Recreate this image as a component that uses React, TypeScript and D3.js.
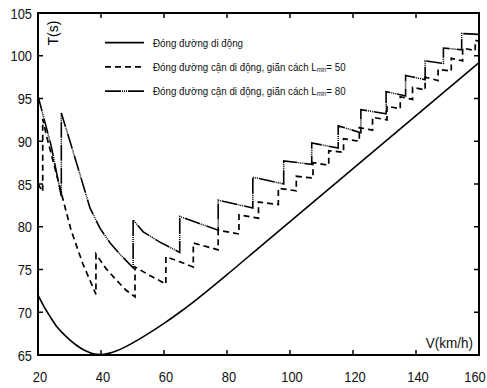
import React, { useEffect, useRef } from 'react';
import * as d3 from 'd3';

const xTicks = [20, 40, 60, 80, 100, 120, 140, 160];
const yTicks = [65, 70, 75, 80, 85, 90, 95, 100, 105];

// Đóng đường di động (solid)
const movingV = [20, 22, 24, 26, 28, 30, 32, 34, 36, 38, 40, 45, 50, 55, 60, 65, 70, 80, 90, 100, 110, 120, 130, 140, 150, 160];
const movingT = [72.0, 70.6, 69.4, 68.3, 67.5, 66.8, 66.2, 65.7, 65.35, 65.1, 65.05, 65.5, 66.4, 67.5, 68.7, 70.0, 71.4, 74.4, 77.5, 80.6, 83.7, 86.8, 89.9, 93.0, 96.1, 99.2];

// Lmin = 50 (dashed), repeated V = jump
const q50V = [20, 21.5, 21.5, 23, 25, 27.5, 30.5, 34.2, 38.4, 38.4, 41.6, 44.8, 47.9, 50.8, 50.8, 55.5, 60.6, 60.6, 65, 69.3, 69.3, 77.2, 77.2, 83.8, 83.8, 90, 90, 96.3, 96.3, 102, 102, 107.3, 107.3, 112.3, 112.3, 117, 117, 122, 122, 126.2, 126.2, 130.8, 130.8, 135, 135, 138.9, 138.9, 142.9, 142.9, 147, 147, 151.2, 151.2, 154.8, 154.8, 158.8, 158.8, 160];
const q50T = [85, 84.1, 92.6, 90.2, 87.4, 83.8, 79.6, 75.7, 72.1, 76.8, 75.1, 73.8, 72.6, 71.8, 75.3, 74.3, 73.3, 76.5, 75.9, 75.3, 78.1, 77.3, 79.6, 79.15, 81.4, 81.0, 82.9, 82.6, 84.5, 84.2, 85.9, 85.7, 87.5, 87.2, 88.9, 88.7, 90.3, 90.0, 91.6, 91.3, 92.8, 92.5, 94.1, 93.8, 95.2, 94.9, 96.3, 96.0, 97.5, 97.1, 98.4, 98.2, 99.7, 99.4, 100.9, 100.6, 101.8, 101.7];

// Lmin = 80 (dash-dot)
const q80V = [20, 22, 24.1, 27.4, 27.4, 29.9, 33.1, 36.5, 39.7, 42.9, 46.5, 50.2, 50.2, 53.4, 58.7, 65, 65, 71, 77.2, 77.2, 88.2, 88.2, 98, 98, 106.9, 106.9, 115.3, 115.3, 122.5, 122.5, 130.5, 130.5, 136.7, 136.7, 142.9, 142.9, 148.7, 148.7, 154.5, 154.5, 160];
const q80T = [95.3, 92.5, 89.6, 83.6, 93.3, 90.3, 86.4, 82.2, 79.8, 78.1, 76.6, 75.2, 80.8, 79.4, 78.2, 77.0, 81.2, 80.4, 79.6, 83.1, 82.2, 85.8, 85.0, 87.7, 87.3, 89.8, 89.2, 91.8, 91.0, 93.7, 93.2, 95.8, 95.3, 97.7, 97.2, 99.4, 99.1, 100.9, 100.7, 102.6, 102.5];

const legendText = ['Đóng đường di động', 'Đóng đường cận di động, giãn cách L', 'Đóng đường cận di động, giãn cách L'];
const legendLmin = ['', '50', '80'];
const legendDash = ['none', '6,4', '16,1,1,1,1,1,1,1'];

const FONT = 'Liberation Sans, Arial, sans-serif';

export default function App() {
  const ref = useRef<SVGSVGElement>(null);

  function draw() {
    const svg = d3.select(ref.current);
    svg.selectAll('*').remove();
    const width = 487, height = 388;
    const margin = { top: 13, right: 8, bottom: 33, left: 38 };

    const x = d3.scaleLinear().domain([20, 160]).range([margin.left, width - margin.right]);
    const y = d3.scaleLinear().domain([65, 105]).range([height - margin.bottom, margin.top]);

    svg.append('rect').attr('width', width).attr('height', height).attr('fill', '#fff');

    // squeezed text (the original font is narrow)
    function label(g: any, tx: number, ty: number, s: string, anchor: string, size: number, sx: number) {
      return g.append('text')
        .attr('transform', `translate(${tx},${ty}) scale(${sx},1)`)
        .attr('text-anchor', anchor)
        .attr('font-family', FONT)
        .attr('font-size', size)
        .attr('fill', '#111')
        .text(s);
    }

    const toPath = (vs: number[], ts: number[], curve: any) =>
      d3.line<[number, number]>().x(d => x(d[0])).y(d => y(d[1])).curve(curve)(vs.map((v, i) => [v, ts[i]]));

    const g = svg.append('g');

    g.append('path')
      .attr('d', toPath(movingV, movingT, d3.curveMonotoneX))
      .attr('fill', 'none').attr('stroke', '#000').attr('stroke-width', 1.6);

    g.append('path')
      .attr('d', toPath(q50V, q50T, d3.curveLinear))
      .attr('fill', 'none').attr('stroke', '#000').attr('stroke-width', 1.7)
      .attr('stroke-dasharray', legendDash[1]);

    g.append('path')
      .attr('d', toPath(q80V, q80T, d3.curveLinear))
      .attr('fill', 'none').attr('stroke', '#000').attr('stroke-width', 1.6)
      .attr('stroke-dasharray', legendDash[2]);

    // frame
    const [x0, x1] = x.range();
    const [y0, y1] = y.range();
    svg.append('rect')
      .attr('x', x0).attr('y', y1).attr('width', x1 - x0).attr('height', y0 - y1)
      .attr('fill', 'none').attr('stroke', '#000').attr('stroke-width', 2);

    // inward ticks
    const tk = svg.append('g').attr('stroke', '#000').attr('stroke-width', 1.5);
    xTicks.slice(1, -1).forEach(v => {
      tk.append('line').attr('x1', x(v)).attr('x2', x(v)).attr('y1', y0).attr('y2', y0 - 5);
      tk.append('line').attr('x1', x(v)).attr('x2', x(v)).attr('y1', y1).attr('y2', y1 + 5);
    });
    yTicks.slice(1, -1).forEach(t => {
      tk.append('line').attr('x1', x0).attr('x2', x0 + 5).attr('y1', y(t)).attr('y2', y(t));
      tk.append('line').attr('x1', x1).attr('x2', x1 - 5).attr('y1', y(t)).attr('y2', y(t));
    });

    // last label pulled in a little so it stays inside the page
    xTicks.forEach(v => label(svg, Math.min(x(v) + 2, width - 12), 382, String(v), 'middle', 15, 0.86));
    yTicks.forEach(t => label(svg, 32, y(t) + 5.5, String(t), 'end', 15, 0.86));

    label(svg, 473, 348, 'V(km/h)', 'end', 15, 0.9);
    svg.append('text')
      .attr('transform', 'translate(58,33) rotate(-90)')
      .attr('text-anchor', 'middle')
      .attr('font-family', FONT)
      .attr('font-size', 14)
      .text('T(s)');

    // legend
    const lg = svg.append('g');
    legendText.forEach((s, i) => {
      const ly = 42.7 + i * 24.2;
      lg.append('line')
        .attr('x1', 105).attr('x2', 144).attr('y1', ly).attr('y2', ly)
        .attr('stroke', '#000').attr('stroke-width', 1.7)
        .attr('stroke-dasharray', legendDash[i]);
      const t = label(lg, 153, ly + 4, '', 'start', 11.5, 0.85);
      t.append('tspan').text(s);
      if (legendLmin[i]) {
        t.append('tspan').attr('font-size', 7).attr('dy', 1).text('min');
        t.append('tspan').attr('dy', -1).text('= ' + legendLmin[i]);
      }
    });
  }

  useEffect(() => {
    draw();
  }, []);

  return (
    <svg ref={ref} width={487} height={388} style={{ position: 'absolute', left: 0, top: 0 }} />
  );
}
